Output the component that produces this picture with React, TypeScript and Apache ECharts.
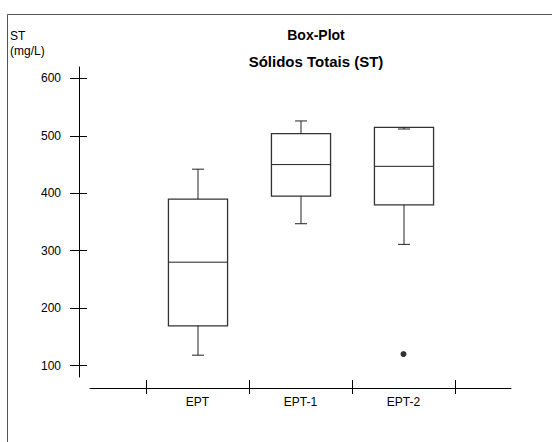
import React, { useEffect, useRef } from "react";
import * as echarts from "echarts";

const categories = ["EPT", "EPT-1", "EPT-2"];
const whiskerLow = [118, 347, 311];
const quartile1 = [169, 395, 380];
const medians = [280, 450, 447];
const quartile3 = [390, 504, 515];
const whiskerHigh = [442, 526, 512];
const outliers: [string, number][] = [["EPT-2", 120]];
const yTicks = [100, 200, 300, 400, 500, 600];
const yMin = 80;
const yMax = 620;
const chartTitle = "Box-Plot";
const chartSubtitle = "Sólidos Totais (ST)";
const yName = ["ST", "(mg/L)"];

export default function App() {
  const ref = useRef<HTMLDivElement>(null);
  useEffect(() => {
    const chart = echarts.init(ref.current!, null, { renderer: "svg" });
    const boxData = categories.map((_, i) => [
      i,
      whiskerLow[i],
      quartile1[i],
      medians[i],
      quartile3[i],
      whiskerHigh[i],
    ]);
    const ls = { stroke: "#222", lineWidth: 1 };
    const boxLs = { stroke: "#333", lineWidth: 1.3, fill: "none" };
    chart.setOption({
      animation: false,
      backgroundColor: "#fff",
      grid: [
        { left: 146, right: 97, top: 67, height: 310 },
        { left: 90, right: 41, top: 387, height: 1 },
      ],
      xAxis: [
        {
          type: "category",
          gridIndex: 0,
          data: categories,
          boundaryGap: true,
          position: "bottom",
          offset: 3,
          axisLine: { show: false },
          axisTick: { show: true, length: 14, interval: 0, lineStyle: { color: "#000" } },
          axisLabel: { margin: 16, color: "#000", fontSize: 12, fontFamily: "Arial", interval: 0 },
          splitLine: { show: false },
        },
        {
          type: "value",
          gridIndex: 1,
          min: 0,
          max: 1,
          axisLine: { show: true, onZero: false, lineStyle: { color: "#000" } },
          axisTick: { show: false },
          axisLabel: { show: false },
          splitLine: { show: false },
        },
      ],
      yAxis: [
        {
          type: "value",
          gridIndex: 0,
          min: yMin,
          max: yMax,
          position: "left",
          offset: 67,
          axisLine: { show: true, onZero: false, lineStyle: { color: "#000" } },
          axisTick: { show: true, length: 9, customValues: yTicks, lineStyle: { color: "#000" } },
          axisLabel: { customValues: yTicks, margin: 18, color: "#000", fontSize: 12, fontFamily: "Arial" },
          splitLine: { show: false },
        },
        {
          type: "value",
          gridIndex: 0,
          min: yMin,
          max: yMax,
          position: "left",
          offset: 67,
          axisLine: { show: false },
          axisTick: { show: true, inside: true, length: 8, customValues: yTicks, lineStyle: { color: "#000" } },
          axisLabel: { show: false },
          splitLine: { show: false },
        },
        { type: "value", gridIndex: 1, show: false, min: 0, max: 1 },
      ],
      graphic: [
        {
          type: "rect",
          silent: true,
          z: -10,
          shape: { x: 7.5, y: 14.5, width: 600, height: 500 },
          style: { fill: "none", stroke: "#555", lineWidth: 1 },
        },
        {
          type: "text",
          x: 316,
          y: 28,
          style: { text: chartTitle, font: "bold 14px Arial", fill: "#000", align: "center", verticalAlign: "top" },
        },
        {
          type: "text",
          x: 316,
          y: 54,
          style: { text: chartSubtitle, font: "bold 15px Arial", fill: "#000", align: "center", verticalAlign: "top" },
        },
        {
          type: "text",
          x: 10,
          y: 30,
          style: { text: yName[0], font: "12px Arial", fill: "#000", align: "left", verticalAlign: "top" },
        },
        {
          type: "text",
          x: 10,
          y: 45,
          style: { text: yName[1], font: "12px Arial", fill: "#000", align: "left", verticalAlign: "top" },
        },
      ],
      series: [
        {
          type: "custom",
          xAxisIndex: 0,
          yAxisIndex: 0,
          data: boxData,
          encode: { x: 0, y: [1, 2, 3, 4, 5] },
          renderItem: (params: any, api: any) => {
            const idx = api.value(0);
            const pLow = api.coord([idx, api.value(1)]);
            const pQ1 = api.coord([idx, api.value(2)]);
            const pMed = api.coord([idx, api.value(3)]);
            const pQ3 = api.coord([idx, api.value(4)]);
            const pHigh = api.coord([idx, api.value(5)]);
            const band = api.size([1, 0])[0];
            const half = band * 0.287;
            const capHalf = 6;
            const cx = Math.round(pLow[0]);
            return {
              type: "group",
              children: [
                {
                  type: "rect",
                  shape: { x: cx - half, y: pQ3[1], width: half * 2, height: pQ1[1] - pQ3[1] },
                  style: boxLs,
                },
                { type: "line", shape: { x1: cx - half, y1: pMed[1], x2: cx + half, y2: pMed[1] }, style: ls },
                { type: "line", shape: { x1: cx, y1: pQ1[1], x2: cx, y2: pLow[1] }, style: ls },
                { type: "line", shape: { x1: cx, y1: pQ3[1], x2: cx, y2: pHigh[1] }, style: ls },
                { type: "line", shape: { x1: cx - capHalf, y1: pLow[1], x2: cx + capHalf, y2: pLow[1] }, style: ls },
                { type: "line", shape: { x1: cx - capHalf, y1: pHigh[1], x2: cx + capHalf, y2: pHigh[1] }, style: ls },
              ],
            };
          },
        },
        {
          type: "scatter",
          xAxisIndex: 0,
          yAxisIndex: 0,
          data: outliers,
          symbol: "circle",
          symbolSize: 6,
          itemStyle: { color: "#000" },
        },
      ],
    });
    return () => chart.dispose();
  }, []);
  return <div ref={ref} style={{ position: "fixed", left: 0, top: 0, width: 552, height: 442 }} />;
}
